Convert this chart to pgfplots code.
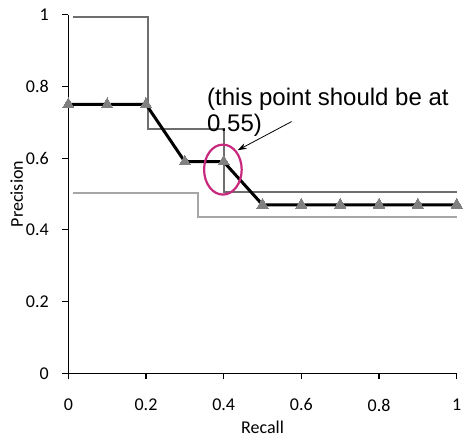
\documentclass[border=0pt]{standalone}
\usepackage{fontspec}
\setmainfont{Carlito}
\newfontfamily\arialfont{Liberation Sans}
\usepackage{pgfplots}
\pgfplotsset{compat=1.18}
\usetikzlibrary{arrows.meta}
\definecolor{darkg}{HTML}{6E6E6E}
\definecolor{lightg}{HTML}{A6A6A6}
\definecolor{markg}{HTML}{808080}
\definecolor{mag}{HTML}{C8287D}
\begin{document}
\begin{tikzpicture}
\begin{axis}[
  scale only axis,
  width=388.4pt, height=358.6pt,
  xmin=0, xmax=1, ymin=0, ymax=1,
  axis x line=bottom, axis y line=left,
  axis line style={-, black, line width=1.1pt},
  tick style={black, line width=1.1pt},
  tick align=outside, major tick length=6pt,
  xtick={0,0.2,0.4,0.6,0.8,1},
  xticklabels={0,0.2,0.4,0.6,0.8,1},
  ytick={0,0.2,0.4,0.6,0.8,1},
  yticklabels={0,0.2,0.4,0.6,0.8,1},
  minor tick num=0,
  /pgf/number format/assume math mode=true,
  ticklabel style={font=\fontsize{18}{20}\selectfont},
  xticklabel style={yshift=-16pt},
  yticklabel style={xshift=-10pt},
  xlabel={Recall}, ylabel={Precision},
  label style={font=\fontsize{18}{20}\selectfont},
  xlabel style={yshift=-3pt},
  ylabel style={yshift=-4pt},
  clip=false,
]
\addplot[darkg, line width=2pt, sharp plot] coordinates {
 (0.012,0.994) (0.205,0.994) (0.205,0.68) (0.4,0.68) (0.4,0.505) (1,0.505)};
\addplot[lightg, line width=2pt, sharp plot] coordinates {
 (0.012,0.503) (0.333,0.503) (0.333,0.437) (1,0.437)};
\addplot[black, line width=3pt, mark=triangle*, mark size=6.5pt,
  mark options={fill=markg, draw=markg, line width=0pt}] coordinates {
 (0,0.75) (0.1,0.75) (0.2,0.75) (0.3,0.59) (0.4,0.59) (0.5,0.47)
 (0.6,0.47) (0.7,0.47) (0.8,0.47) (0.9,0.47) (1,0.47)};
\draw[mag, line width=2.2pt] (axis cs:0.398,0.568) ellipse [x radius=18.8pt, y radius=25pt];
\draw[black, line width=0.8pt, -{Stealth[length=9pt,width=6pt]}] (axis cs:0.575,0.702) -- (axis cs:0.436,0.622);
\node[anchor=base west, inner sep=0pt, font=\arialfont\fontsize{24}{26}\selectfont] at (axis cs:0.357,0.748) {(this point should be at};
\node[anchor=base west, inner sep=0pt, font=\arialfont\fontsize{24}{26}\selectfont] at (axis cs:0.357,0.673) {0.55)};
\coordinate (bl) at (axis cs:-0.1759,-0.186);
\coordinate (tr) at (axis cs:1.0188,1.041);
\end{axis}
\pgfresetboundingbox
\useasboundingbox (bl) rectangle (tr);
\end{tikzpicture}
\end{document}
